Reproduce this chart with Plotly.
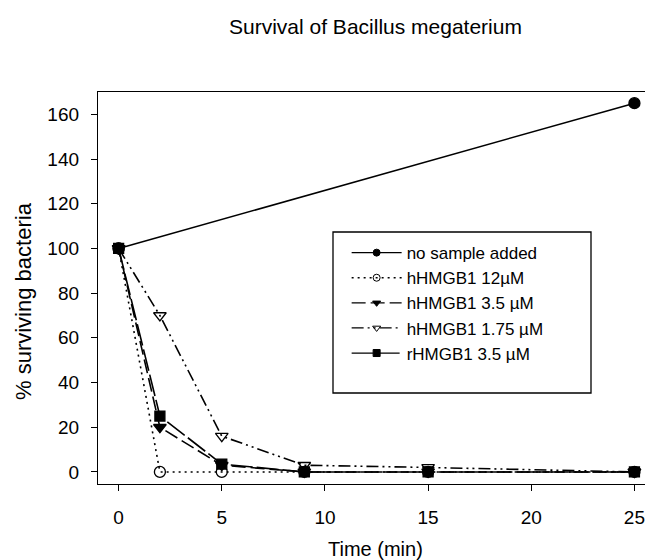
import plotly.graph_objects as go

time_min = [0, 2, 5, 9, 15, 25]
no_sample_x = [0, 25]
no_sample = [100, 165]
h12 = [100, 0, 0, 0, 0, 0]
h35 = [100, 20, 3, 0, 0, 0]
h175 = [100, 70, 16, 3, 2, 0]
r35 = [100, 25, 3.5, 0, 0, 0]

names = ["no sample added", "hHMGB1 12\u00b5M", "hHMGB1 3.5 \u00b5M",
         "hHMGB1 1.75 \u00b5M", "rHMGB1 3.5 \u00b5M"]

FONT = "Arial, Liberation Sans, sans-serif"
series = [
    (no_sample_x, no_sample, names[0], "solid", "circle", 11),
    (time_min, h12, names[1], "2px,4px", "circle-open", 11),
    (time_min, h35, names[2], "14px,5px", "triangle-down", 11),
    (time_min, h175, names[3], "12px,4px,2px,4px,2px,4px", "triangle-down-open", 11),
    (time_min, r35, names[4], "22px,4px", "square", 10),
]

fig = go.Figure()
for x, y, nm, dash, sym, sz in series:
    fig.add_trace(go.Scatter(
        x=x, y=y, mode="lines+markers", name=nm, showlegend=False,
        line=dict(color="black", width=1.6, dash=dash),
        marker=dict(symbol=sym, size=sz, color="black",
                    line=dict(color="black", width=1.3)),
    ))
for x, y, nm, dash, sym, sz in series:
    fig.add_trace(go.Scatter(
        x=[None], y=[None], mode="lines+markers", name=nm, showlegend=True,
        line=dict(color="black", width=1.3, dash=dash),
        marker=dict(symbol=sym, size=7, color="black",
                    line=dict(color="black", width=1)),
    ))

# page body has an 8px margin: figure is drawn at (8, 8) in the window
fig.update_layout(
    width=645, height=552,
    margin=dict(l=90, r=0, t=84, b=76),
    paper_bgcolor="white", plot_bgcolor="white",
    font=dict(family=FONT, size=19, color="black"),
    showlegend=True,
    legend=dict(x=0.448, y=0.635, xanchor="left", yanchor="top",
                bgcolor="rgba(0,0,0,0)", borderwidth=0,
                font=dict(size=17), itemwidth=50, tracegroupgap=0),
    xaxis=dict(range=[-1.0, 25.9], tickvals=[0, 5, 10, 15, 20, 25],
               showline=True, linecolor="black", linewidth=1.3, mirror=True,
               ticks="outside", ticklen=6, tickcolor="black", tickwidth=1,
               showgrid=False, zeroline=False, ticklabelstandoff=10),
    yaxis=dict(range=[-5.4, 170], tickvals=[0, 20, 40, 60, 80, 100, 120, 140, 160],
               showline=True, linecolor="black", linewidth=1.3, mirror=False,
               ticks="outside", ticklen=6, tickcolor="black", tickwidth=1,
               showgrid=False, zeroline=False, ticklabelstandoff=8),
    shapes=[dict(type="rect", xref="paper", yref="paper",
                 x0=(333 - 98) / 555, x1=(591 - 98) / 555,
                 y0=1 - (393 - 92) / 392, y1=1 - (232 - 92) / 392,
                 line=dict(color="black", width=1.3), fillcolor="rgba(0,0,0,0)")],
    annotations=[
        dict(text="Survival of Bacillus megaterium", xref="paper", yref="paper",
             x=0.5, y=1 + (92 - 26) / 392, xanchor="center", yanchor="middle",
             showarrow=False, font=dict(size=21)),
        dict(text="Time (min)", xref="paper", yref="paper",
             x=0.5, y=-(549 - 484) / 392, xanchor="center", yanchor="middle",
             showarrow=False, font=dict(size=20)),
        dict(text="% surviving bacteria", xref="paper", yref="paper",
             x=-(98 - 23) / 555, y=1 - (301 - 92) / 392, xanchor="center", yanchor="middle",
             showarrow=False, textangle=-90, font=dict(size=22)),
    ],
)

fig.write_html("out.html")
